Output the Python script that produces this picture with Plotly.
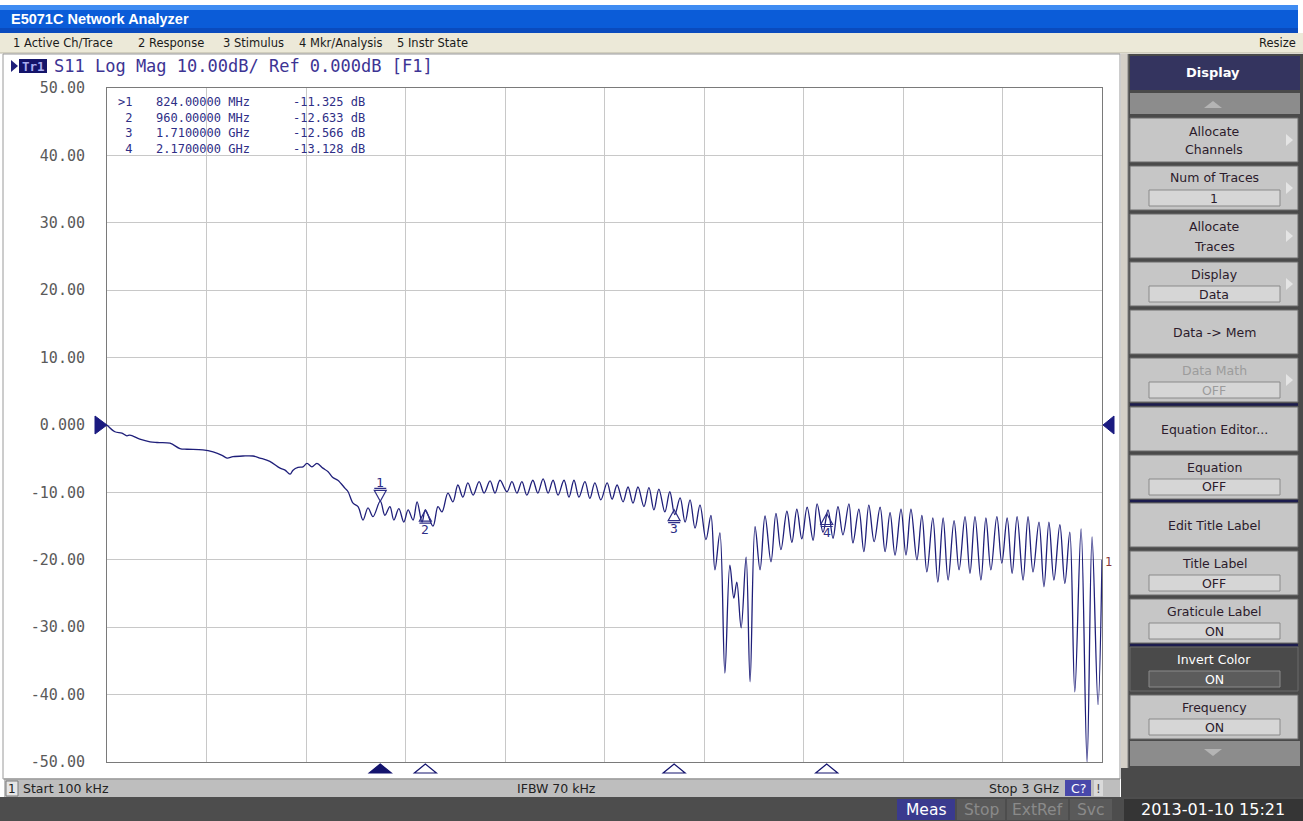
import plotly.graph_objects as go

# ---------------- data ----------------
freq_mhz = [0.1, 24, 45, 60, 69, 99, 130, 151, 190, 220, 241, 289, 320, 347, 362, 380, 410, 440, 461, 491,
            522, 537, 552, 561, 576, 591, 603, 618, 633, 651, 666, 681, 696, 718, 727, 742, 757, 772, 787, 802,
            824, 838, 853, 865, 880, 895, 908, 923, 935, 950, 960, 983, 998, 1010, 1028, 1043, 1058, 1073, 1088, 1104,
            1122, 1137, 1155, 1170, 1185, 1206, 1221, 1236, 1251, 1266, 1284, 1299, 1315, 1330, 1345, 1360, 1378, 1393, 1408, 1423,
            1441, 1456, 1471, 1489, 1508, 1523, 1538, 1556, 1571, 1586, 1601, 1619, 1634, 1649, 1664, 1682, 1697, 1712, 1728, 1743,
            1758, 1773, 1788, 1806, 1821, 1833, 1848, 1863, 1878, 1890, 1899, 1912, 1927, 1939, 1954, 1969, 1984, 2002, 2017, 2032,
            2050, 2065, 2080, 2095, 2111, 2129, 2141, 2159, 2174, 2189, 2204, 2219, 2237, 2249, 2267, 2282, 2297, 2313, 2331, 2346,
            2361, 2376, 2394, 2409, 2424, 2442, 2457, 2472, 2490, 2505, 2521, 2536, 2554, 2569, 2587, 2602, 2617, 2635, 2650, 2665,
            2683, 2698, 2714, 2729, 2744, 2762, 2777, 2792, 2810, 2825, 2840, 2855, 2873, 2888, 2903, 2918, 2937, 2955, 2970, 2988,
            3000]
s11_db = [0.0, -1.0, -1.2, -1.6, -1.5, -2.1, -2.5, -2.6, -2.7, -3.5, -3.6, -3.7, -4.0, -4.5, -4.9, -4.7, -4.6, -4.6, -4.9, -5.4,
          -6.4, -6.7, -7.3, -6.7, -6.3, -6.2, -5.7, -6.2, -5.7, -6.4, -6.9, -7.8, -8.2, -9.4, -9.9, -11.6, -12.1, -14.1, -12.3, -13.6,
          -11.3, -13.4, -12.1, -14.1, -12.4, -14.4, -12.6, -14.1, -11.4, -14.4, -12.6, -15.0, -12.1, -12.9, -10.1, -11.4, -8.9, -10.7, -8.6, -10.4,
          -8.4, -10.1, -8.3, -10.1, -8.2, -9.9, -8.4, -10.1, -8.4, -10.4, -8.2, -10.1, -8.0, -10.1, -8.2, -10.4, -8.2, -10.7, -8.2, -10.7,
          -8.4, -10.9, -8.6, -11.1, -8.6, -11.0, -8.9, -11.4, -9.2, -11.6, -9.2, -12.1, -9.3, -12.6, -9.5, -12.9, -9.9, -13.3, -10.8, -14.4,
          -11.1, -15.3, -11.9, -17.0, -13.4, -21.5, -16.0, -36.8, -20.8, -25.7, -23.3, -30.1, -19.6, -38.1, -15.1, -21.5, -13.5, -20.3, -13.1, -18.5,
          -12.8, -17.4, -12.5, -16.9, -12.2, -17.1, -11.7, -15.9, -12.6, -16.8, -12.1, -16.3, -11.7, -17.5, -12.5, -18.8, -11.9, -17.3, -12.2, -18.8,
          -13.0, -19.3, -12.5, -19.3, -12.5, -20.0, -13.4, -21.8, -13.8, -23.3, -13.8, -23.0, -14.2, -21.5, -13.6, -22.0, -13.6, -23.0, -13.8, -21.5,
          -13.6, -20.5, -13.8, -22.0, -13.6, -23.0, -13.6, -21.8, -14.4, -24.0, -14.4, -23.0, -14.8, -23.5, -15.9, -39.6, -15.4, -50.0, -16.6, -41.5,
          -20.0]

marker_ids = ["1", "2", "3", "4"]
marker_freq_mhz = [824.0, 960.0, 1710.0, 2170.0]
marker_db = [-11.325, -12.633, -12.566, -13.128]
marker_freq_text = ["824.00000 MHz", "960.00000 MHz", "1.7100000 GHz", "2.1700000 GHz"]
marker_db_text = ["-11.325 dB", "-12.633 dB", "-12.566 dB", "-13.128 dB"]

y_tick_vals = [50, 40, 30, 20, 10, 0, -10, -20, -30, -40, -50]
y_tick_text = ["50.00", "40.00", "30.00", "20.00", "10.00", "0.000",
               "-10.00", "-20.00", "-30.00", "-40.00", "-50.00"]

menu_items = ["1 Active Ch/Trace", "2 Response", "3 Stimulus", "4 Mkr/Analysis", "5 Instr State"]
softkey_labels = ["Allocate|Channels", "Num of Traces", "Allocate|Traces", "Display", "Data -> Mem",
                  "Data Math", "Equation Editor...", "Equation", "Edit Title Label", "Title Label",
                  "Graticule Label", "Invert Color", "Frequency"]
softkey_values = [None, "1", None, "Data", None, "OFF", None, "OFF", None, "OFF", "ON", "ON", "ON"]
status_items = ["Meas", "Stop", "ExtRef", "Svc"]

# ---------------- page geometry ----------------
W, H = 1303, 821
PL, PR, PT, PB = 107, 1102, 88, 762
NAVY = "#1F1F7A"
MKC = "#2E2E86"
MONO = "DejaVu Sans Mono"
SANS = "DejaVu Sans"


def fx(x):
    return (x - PL) / (PR - PL)


def fy(y):
    return (PB - y) / (PB - PT)


shapes = []
annotations = []


def rect(x0, y0, x1, y1, fill, line=None, lw=0):
    shapes.append(dict(type="rect", xref="paper", yref="paper", x0=fx(x0), x1=fx(x1),
                       y0=fy(y1), y1=fy(y0), fillcolor=fill,
                       line=dict(color=line if line else fill, width=lw), layer="above"))


def hline(x0, x1, y, color, w=1):
    shapes.append(dict(type="line", xref="paper", yref="paper", x0=fx(x0), x1=fx(x1),
                       y0=fy(y), y1=fy(y), line=dict(color=color, width=w), layer="above"))


def vline(x, y0, y1, color, w=1):
    shapes.append(dict(type="line", xref="paper", yref="paper", x0=fx(x), x1=fx(x),
                       y0=fy(y0), y1=fy(y1), line=dict(color=color, width=w), layer="above"))


def poly(pts, fill, line=None, lw=0):
    path = "M" + " L".join(f"{fx(x):.5f},{fy(y):.5f}" for x, y in pts) + " Z"
    shapes.append(dict(type="path", xref="paper", yref="paper", path=path, fillcolor=fill,
                       line=dict(color=line if line else fill, width=lw), layer="above"))


def label(x, y, s, size, color, family=SANS, anchor="left", yanchor="middle", align="left"):
    annotations.append(dict(xref="paper", yref="paper", x=fx(x), y=fy(y), text=s, showarrow=False,
                            xanchor=anchor, yanchor=yanchor, align=align, borderpad=0,
                            font=dict(family=family, size=size, color=color)))


# ---------------- window chrome ----------------
rect(0, 5, 1298, 10, "#3F8CF2")
rect(0, 10, 1298, 28, "#0B5CD8")
rect(0, 28, 1298, 33, "#0A4BBE")
label(10, 19, "<b>E5071C Network Analyzer</b>", 14.5, "white", "Liberation Sans")
rect(0, 33, 1303, 53, "#ECE9D8")
hline(0, 1303, 53, "#B8B4A4")
for name, xp in zip(menu_items, [12, 137, 222, 298, 396]):
    label(xp, 43, name, 11.5, "#1A1A1A")
label(1297, 43, "Resize", 11.5, "#1A1A1A", anchor="right")
rect(3, 54, 1120, 779, "rgba(0,0,0,0)", "#9A9A9A", 1)
poly([(11, 60), (18, 66), (11, 72)], NAVY)
rect(19, 59, 47, 73, "#14146A")
label(33, 66, "<b>Tr1</b>", 12.5, "#A8ACF0", MONO, "center")
label(53, 66, "S11 Log Mag 10.00dB/ Ref 0.000dB [F1]", 17, "#3D3494", MONO)

# marker table (one text block per column)
tbl_size = 12
label(117, 94, "<br>".join([">1", "&nbsp;2", "&nbsp;3", "&nbsp;4"]), tbl_size, MKC, MONO, "left", "top")
label(155, 94, "<br>".join(marker_freq_text), tbl_size, MKC, MONO, "left", "top")
label(292, 94, "<br>".join(marker_db_text), tbl_size, MKC, MONO, "left", "top")

label(1104, 562, "1", 12, "#8B3A3A", MONO)

# reference level arrows
shapes.append(dict(type="path", xref="paper", yref="y", xsizemode="pixel", ysizemode="pixel",
                   xanchor=0, yanchor=0, path="M-12,-9 L0,0 L-12,9 Z",
                   fillcolor="#1A1A80", line=dict(color="#1A1A80", width=1), layer="above"))
shapes.append(dict(type="path", xref="paper", yref="y", xsizemode="pixel", ysizemode="pixel",
                   xanchor=1, yanchor=0, path="M12,-9 L1,0 L12,9 Z",
                   fillcolor="#1A1A80", line=dict(color="#1A1A80", width=1), layer="above"))

# markers on the trace and below the graticule
for i in range(4):
    f, d = marker_freq_mhz[i], marker_db[i]
    if i == 0:
        path, shift = "M0,0 L-6,11 L6,11 Z M-6,13 L6,13", 19
    else:
        path, shift = "M0,0 L-6,-11 L6,-11 Z M-6,-13 L6,-13", -19
    shapes.append(dict(type="path", xref="x", yref="y", xsizemode="pixel", ysizemode="pixel",
                       xanchor=f, yanchor=d, path=path, fillcolor="rgba(0,0,0,0)",
                       line=dict(color=MKC, width=1.2), layer="above"))
    annotations.append(dict(xref="x", yref="y", x=f, y=d, yshift=shift, text=marker_ids[i],
                            showarrow=False, font=dict(family=MONO, size=13, color=MKC)))
    shapes.append(dict(type="path", xref="x", yref="paper", xsizemode="pixel", ysizemode="pixel",
                       xanchor=f, yanchor=0, path="M0,-2 L-11,-11 L11,-11 Z",
                       fillcolor=("#14146E" if i == 0 else "white"),
                       line=dict(color="#14146E", width=1.2), layer="above"))

# channel status bar
rect(4, 779, 1120, 797, "#BEBEBE")
hline(4, 1120, 779, "#8A8A8A")
rect(6, 781, 18, 796, "#E6E6E6", "#7A7A7A", 1)
label(12, 788.5, "1", 12, "#222222", SANS, "center")
label(22, 788.5, "Start 100 kHz", 12.5, "#222222")
label(556, 788.5, "IFBW 70 kHz", 12.5, "#222222", SANS, "center")
label(1060, 788.5, "Stop 3 GHz", 12.5, "#222222", SANS, "right")
rect(1065, 780, 1091, 796, "#4848AA")
label(1078, 788.5, "C?", 12.5, "white", SANS, "center")
rect(1094, 780, 1103, 796, "#DADADA")
label(1098.5, 788.5, "!", 12, "#444444", SANS, "center")

# instrument status bar
rect(0, 797, 1303, 821, "#4D4D4D")
for name, (x0, x1) in zip(status_items, [(897, 955), (957, 1005), (1007, 1068), (1070, 1112)]):
    active = name == "Meas"
    rect(x0, 799, x1, 820, "#3A3A8E" if active else "#5A5A5A")
    label((x0 + x1) / 2, 809.5, name, 15.5, "white" if active else "#8A8A8A", SANS, "center")
rect(1124, 799, 1303, 821, "#353535")
label(1213, 809.5, "2013-01-10 15:21", 16, "white", SANS, "center")

# softkey panel
rect(1121, 54, 1303, 797, "#4A4A4A")
rect(1121, 54, 1128, 768, "#D4D0C8")
vline(1128, 54, 768, "#808080")
rect(1130, 56, 1300, 90, "#34345F")
label(1213, 73, "<b>Display</b>", 13, "white", SANS, "center")
rect(1130, 93, 1300, 114, "#8C8C8C")
poly([(1204, 108), (1213, 101), (1222, 108)], "#B4B4B4")
sub_menu = {0, 1, 2, 3, 5}
for i, (txt, val) in enumerate(zip(softkey_labels, softkey_values)):
    top = [118, 166, 214, 262, 310, 358, 407, 455, 503, 551, 599, 647, 695][i]
    inverted = txt == "Invert Color"
    greyed = txt == "Data Math"
    face = "#4A4A4A" if inverted else "#C6C6C6"
    tcol = "white" if inverted else ("#9C9C9C" if greyed else "#2B1B2B")
    rect(1130, top, 1298, top + 44, face, "#6A6A6A", 1)
    if "|" in txt:
        a, b = txt.split("|")
        label(1214, top + 13, a, 12.5, tcol, SANS, "center")
        label(1214, top + 32, b, 12.5, tcol, SANS, "center")
    elif val is None:
        label(1214, top + 22, txt, 12.5, tcol, SANS, "center")
    else:
        label(1214, top + 12, txt, 12.5, tcol, SANS, "center")
        rect(1149, top + 24, 1280, top + 40, "#5C5C5C" if inverted else "#D6D6D6", "#8A8A8A", 1)
        label(1214, top + 32, val, 12.5, tcol, SANS, "center")
    if i in sub_menu:
        poly([(1286, top + 16), (1293, top + 22), (1286, top + 28)], "#E4E4E4")
for ys in [404.5, 501, 645]:
    hline(1130, 1298, ys, "#1C1C4E", 2.5)
rect(1130, 741, 1300, 766, "#8C8C8C")
poly([(1204, 749), (1213, 756), (1222, 749)], "#B4B4B4")

# ---------------- figure ----------------
fig = go.Figure()
fig.add_trace(go.Scatter(x=freq_mhz, y=s11_db, mode="lines",
                         line=dict(color=NAVY, width=1.3, shape="spline", smoothing=1.0),
                         hoverinfo="skip", showlegend=False))

fig.update_layout(
    width=W, height=H, autosize=False,
    margin=dict(l=PL, r=W - PR, t=PT, b=H - PB, pad=0),
    paper_bgcolor="white", plot_bgcolor="white",
    showlegend=False,
    shapes=shapes, annotations=annotations,
    xaxis=dict(range=[0.1, 3000], tick0=0.1, dtick=299.99, showgrid=True, gridcolor="#C8C8C8",
               gridwidth=1, showticklabels=False, ticks="", zeroline=False,
               showline=True, linecolor="#7A7A7A", linewidth=1, mirror=True, fixedrange=True),
    yaxis=dict(range=[-50, 50], tickmode="array", tickvals=y_tick_vals, ticktext=y_tick_text,
               showgrid=True, gridcolor="#C8C8C8", gridwidth=1, zeroline=False, ticks="",
               showline=True, linecolor="#7A7A7A", linewidth=1, mirror=True,
               tickfont=dict(family=MONO, size=15, color="#5A5A5A"), ticklabelstandoff=18,
               fixedrange=True),
)

fig.write_html("out.html", config={"displayModeBar": False},
               post_script="document.body.style.margin='0';document.body.style.overflow='hidden';")
